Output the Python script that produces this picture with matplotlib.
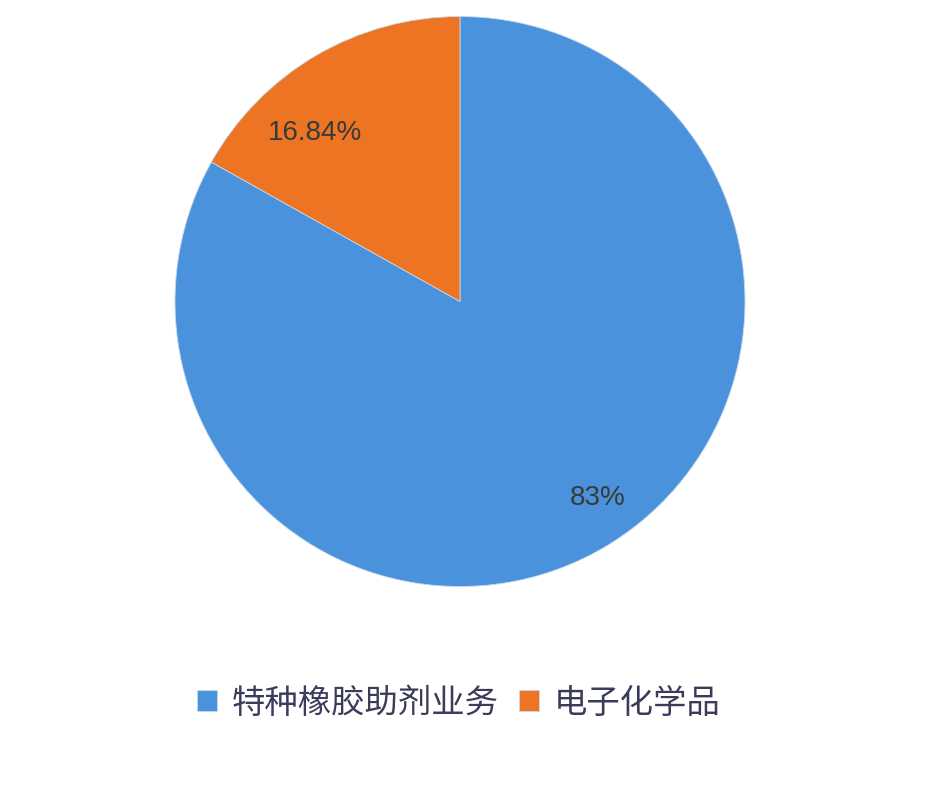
import matplotlib
matplotlib.use("Agg")
import matplotlib.pyplot as plt
import numpy as np

plt.rcParams['font.family'] = ['Noto Sans CJK SC', 'DejaVu Sans']

categories = ["特种橡胶助剂业务", "电子化学品"]
values = [83, 16.84]
pct_labels = ["83%", "16.84%"]
colors = ["#4b92dc", "#ec7422"]

fig = plt.figure(figsize=(9.38, 7.90), dpi=100)
fig.patch.set_facecolor("white")
ax = fig.add_axes([175/938, 1-588/790, 570/938, 573/790])

wedges, _ = ax.pie(values, colors=colors, startangle=90, counterclock=False,
                   wedgeprops=dict(edgecolor="#c8d8ea", linewidth=0.6))
ax.set_aspect("equal")
ax.set_xlim(-1.0, 1.0)
ax.set_ylim(-1.0, 1.0)

# place percentage labels inside wedges
offsets = [(0.84, 4.6), (0.78, 10.5)]  # (radius fraction, angular shift deg)
for w, lab, (r, dth) in zip(wedges, pct_labels, offsets):
    ang = np.deg2rad((w.theta1 + w.theta2) / 2 + dth)
    ax.text(r*np.cos(ang), r*np.sin(ang), lab, ha="center", va="center",
            fontsize=20, color="#3a3a3a", family=["Liberation Sans", "DejaVu Sans"])

leg = fig.legend(wedges, categories, loc="center", bbox_to_anchor=(459/938, 1-703/790),
                 ncol=2, frameon=False, fontsize=24, handlelength=0.6, handleheight=0.6,
                 handletextpad=0.45, columnspacing=0.6, labelcolor="#3b3b5c")

fig.savefig("out.png", dpi=100, facecolor="white")
